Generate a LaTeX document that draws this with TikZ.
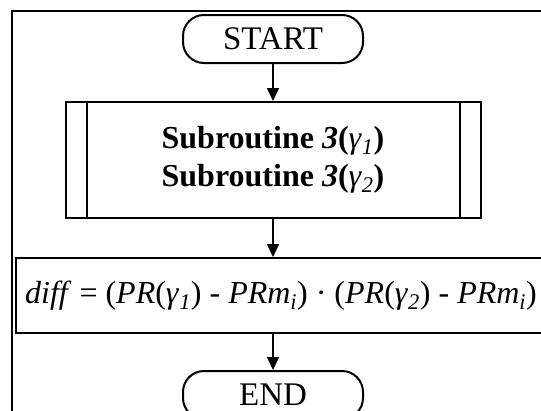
\documentclass[tikz,border=0pt]{standalone}
\usepackage{fontspec}
\setmainfont{Liberation Serif}
\usetikzlibrary{arrows.meta,positioning}

\begin{document}
\begin{tikzpicture}[x=1pt, y=-1pt,
  line width=2pt,
  term/.style={draw, rounded corners=21pt, minimum width=180pt, minimum height=48pt,
               inner sep=0pt, font=\fontsize{33}{38}\selectfont},
  proc/.style={draw, inner sep=0pt, align=center, font=\fontsize{32}{38}\selectfont},
  arr/.style={-{Triangle[length=13pt,width=12pt]}, line width=1.6pt}
]
  \useasboundingbox (0,0) rectangle (541,410);
  \draw (12,11) rectangle (560,430);

  \node[term] (start) at (273,39) {START};
  \node[proc, minimum width=415pt, minimum height=116pt, below=37pt of start] (sub)
    {\textbf{Subroutine \textit{3}(}\textit{γ}\textsubscript{\textit{1}}\textbf{)}\\
     \textbf{Subroutine \textit{3}(}\textit{γ}\textsubscript{\textit{2}}\textbf{)}};
  \draw ([xshift=22pt]sub.north west) -- ([xshift=22pt]sub.south west);
  \draw ([xshift=-22pt]sub.north east) -- ([xshift=-22pt]sub.south east);

  \node[proc, minimum width=530pt, minimum height=75pt, below=38pt of sub, xshift=8pt] (diff)
    {\textit{diff} = (\textit{PR}(\textit{γ}\textsubscript{\textit{1}}) - \textit{PRm}\textsubscript{\textit{i}}) · (\textit{PR}(\textit{γ}\textsubscript{\textit{2}}) - \textit{PRm}\textsubscript{\textit{i}})};
  \node[term, below=36pt of diff, xshift=-8pt] (stop) {END};

  \draw[arr] (start) -- (sub);
  \draw[arr] (sub) -- (sub |- diff.north);
  \draw[arr] (diff.south -| stop) -- (stop);
\end{tikzpicture}
\end{document}
